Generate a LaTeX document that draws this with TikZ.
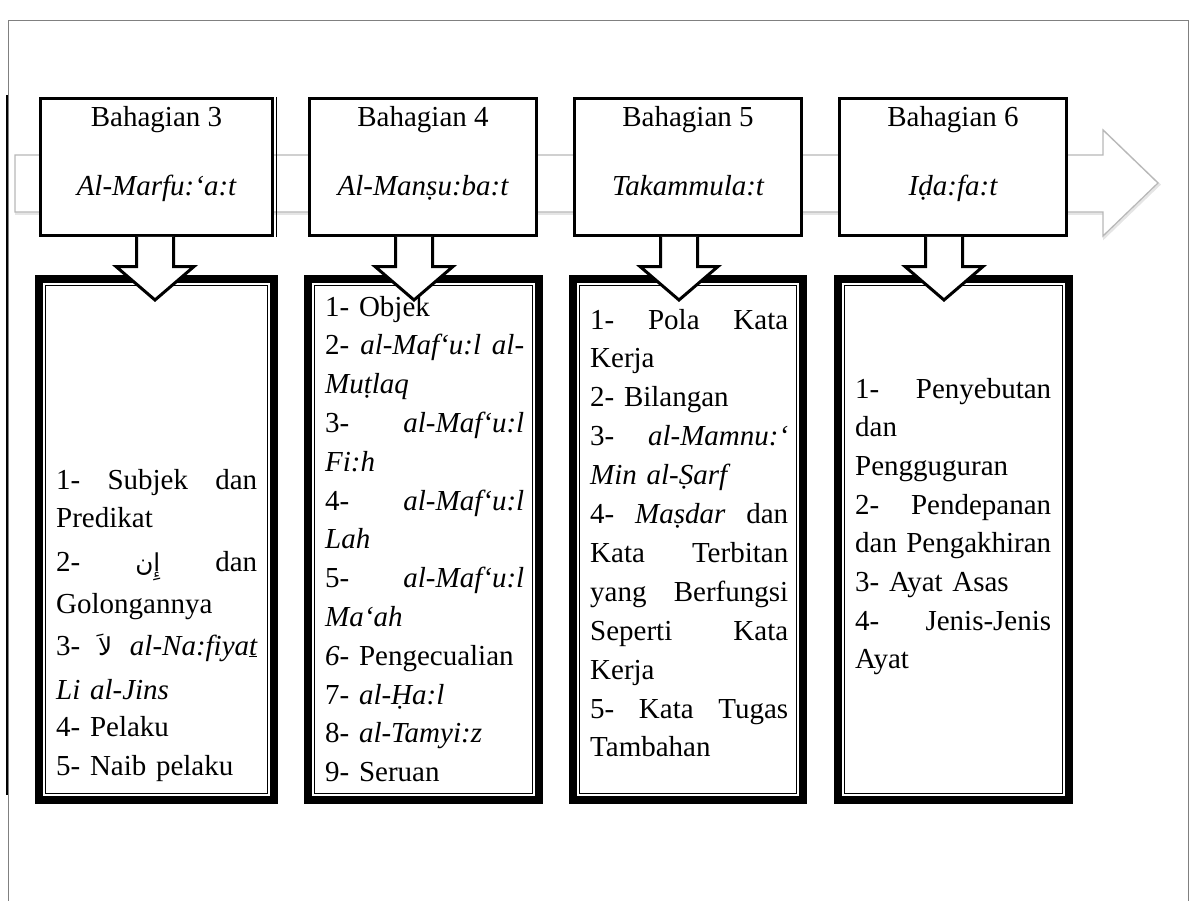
\documentclass[tikz,border=0pt]{standalone}
\usepackage{fontspec}
\setmainfont{Liberation Serif}
\newfontfamily\arabicfont[Script=Arabic,Scale=0.85]{DejaVu Sans}
\TeXXeTstate=1
\usetikzlibrary{calc}
% a line stretched over the full column width
\newcommand\spread[1]{\leavevmode\hbox to\linewidth{#1}}
% a right-to-left Arabic word
\newcommand\ar[1]{{\arabicfont\beginR #1\endR}}

\begin{document}
\begin{tikzpicture}[x=1pt,y=-1pt,
  frameline/.style={draw=black!50, line width=0.9pt},
  bigarrow/.style={draw=black!28, line width=1.3pt, fill=white, line join=miter},
  bigshadow/.style={draw=black!10, line width=2.4pt, line join=miter},
  topbox/.style={draw, line width=3pt, fill=white, inner sep=0pt, outer sep=0pt,
                 minimum width=227pt, minimum height=137pt},
  toplabel/.style={anchor=base, inner sep=0pt, font=\fontsize{29pt}{34pt}\selectfont},
  listbox/.style={draw, line width=8pt, fill=white, inner sep=0pt, outer sep=0pt,
                  minimum height=521pt},
  listtext/.style={anchor=base west, align=left, inner sep=0pt,
                   font=\fontsize{29pt}{#1}\selectfont},
  listtext/.default=38.8pt,
  downarrow/.style={draw, line width=3pt, fill=white, line join=miter, miter limit=6}
]
\useasboundingbox (0,0) rectangle (1190,901);

% page frame
\draw[frameline] (8,901) -- (8,20) -- (1188,20) -- (1188,901);
\draw[line width=2.3pt] (7,95) -- (7,795);

% the long arrow running behind the part headings
\draw[bigshadow, shift={(1.2,1.6)}] (15,155) -- (1103,155) -- (1103,130) -- (1158,183)
      -- (1103,236) -- (1103,212) -- (15,212) -- cycle;
\draw[bigarrow] (15,155) -- (1103,155) -- (1103,130) -- (1158,183)
      -- (1103,236) -- (1103,212) -- (15,212) -- cycle;

% part headings
\node[topbox, minimum width=232pt] (t1) at (156.5,167) {};
\node[topbox] (t2) at (423,167) {};
\node[topbox] (t3) at (688,167) {};
\node[topbox] (t4) at (953,167) {};
\draw[line width=1pt] (276.5,97) -- (276.5,237);

\node[toplabel] (t1a) at (156.5,127) {Bahagian 3};
\node[toplabel] (t1b) at (156.5,195.5) {\itshape Al-Marfu:‘a:t};
\node[toplabel] (t2a) at (423,127) {Bahagian 4};
\node[toplabel] (t2b) at (423,195.5) {\itshape Al-Manṣu:ba:t};
\node[toplabel] (t3a) at (688,127) {Bahagian 5};
\node[toplabel] (t3b) at (688,195.5) {\itshape Takammula:t};
\node[toplabel] (t4a) at (953,127) {Bahagian 6};
\node[toplabel] (t4b) at (953,195.5) {\itshape Iḍa:fa:t};

% topic lists
\node[listbox, minimum width=235pt] (l1) at (156.5,539.5) {};
\node[listbox, minimum width=231pt] (l2) at (423.5,539.5) {};
\node[listbox, minimum width=230pt] (l3) at (688,539.5) {};
\node[listbox, minimum width=231pt] (l4) at (953.5,539.5) {};
\foreach \n in {1,2,3,4}{
  \draw[line width=1pt] ([shift={(6.5,6.5)}]l\n.north west)
        rectangle ([shift={(-6.5,-6.5)}]l\n.south east);
}

% lines holding Arabic words stand a little further apart
\node[listtext=38.5pt, text width=201pt] (l1txt) at (56,489) {%
\spread{1-\hfill Subjek\hfill dan}\\[-0.5pt]
Predikat\\[5.5pt]
\spread{2-\hfill\ar{إِن}\hfill dan}\\[3.5pt]
Golongannya\\[3.5pt]
\spread{3-\hfill\ar{لاَ}\hfill\textit{al-Na:fiya\underline{t}}}\\[5.5pt]
\textit{Li al-Jins}\\[-1.5pt]
4- Pelaku\\[0.5pt]
5- Naib pelaku};

\node[listtext, text width=199pt] (l2txt) at (325,316) {%
1- Objek\\
\spread{2-\hfill\textit{al-Maf‘u:l}\hfill\textit{al-}}\\
\textit{Muṭlaq}\\
\spread{3-\hfill\textit{al-Maf‘u:l}}\\
\textit{Fi:h}\\
\spread{4-\hfill\textit{al-Maf‘u:l}}\\
\textit{Lah}\\
\spread{5-\hfill\textit{al-Maf‘u:l}}\\
\textit{Ma‘ah}\\
\textit{6}- Pengecualian\\
7- \textit{al-Ḥa:l}\\
8- \textit{al-Tamyi:z}\\
9- Seruan};

\node[listtext=38.9pt, text width=198pt] (l3txt) at (590,329) {%
\spread{1-\hfill Pola\hfill Kata}\\
Kerja\\
2- Bilangan\\
\spread{3-\hfill\textit{al-Mamnu:‘}}\\
\textit{Min al-Ṣarf}\\
\spread{4-\hfill\textit{Maṣdar}\hfill dan}\\
\spread{Kata\hfill Terbitan}\\
\spread{yang\hfill Berfungsi}\\
\spread{Seperti\hfill Kata}\\
Kerja\\
\spread{5-\hfill Kata\hfill Tugas}\\
Tambahan};

\node[listtext=38.7pt, text width=196pt] (l4txt) at (855,398) {%
\spread{1-\hfill Penyebutan}\\
dan\\
Pengguguran\\
\spread{2-\hfill Pendepanan}\\
\spread{dan\hfill Pengakhiran}\\
3- Ayat Asas\\
\spread{4-\hfill Jenis-Jenis}\\
Ayat};

% block arrows from each heading down into its list
\foreach \n/\dx in {1/-1.5,2/-9,3/-9,4/-9}{
  \begin{scope}[shift={($(t\n.south)+(\dx,0)$)}]
    \draw[downarrow] (-18.5,1.5) -- (-18.5,31) -- (-39,31) -- (0,64.5)
          -- (39,31) -- (18.5,31) -- (18.5,1.5);
  \end{scope}
}
\end{tikzpicture}
\end{document}
